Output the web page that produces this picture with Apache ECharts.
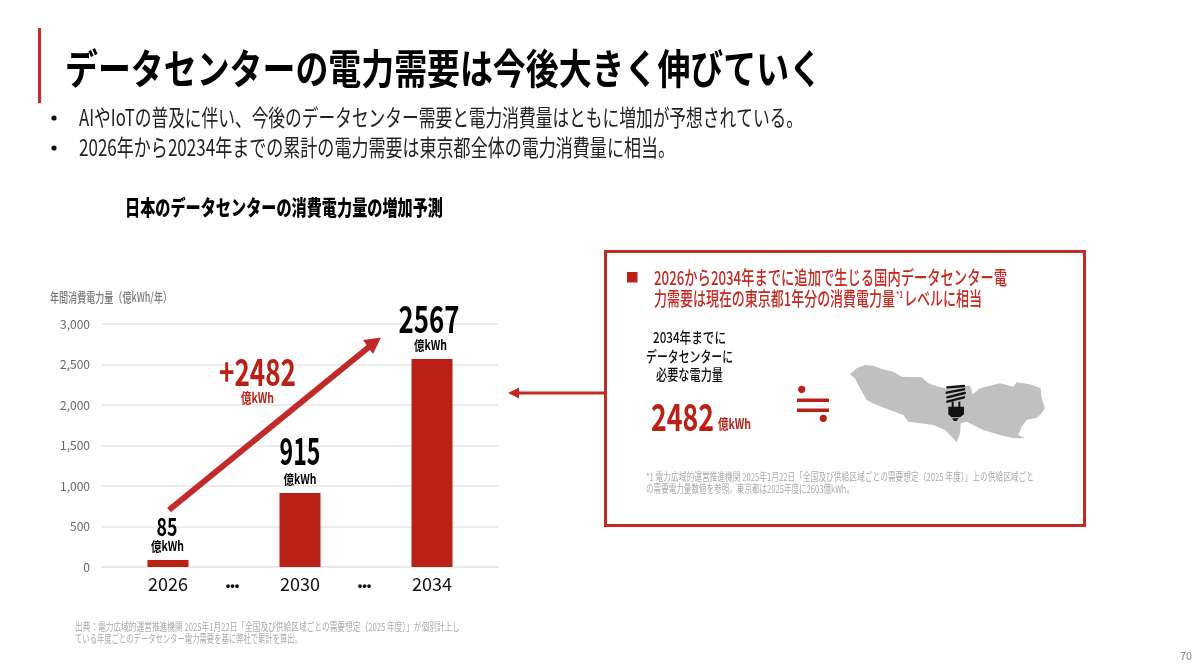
<!DOCTYPE html>
<html><head><meta charset="utf-8">
<style>html,body{margin:0;padding:0;background:#fff}#c{width:1200px;height:672px}</style>
<script src="https://cdn.jsdelivr.net/npm/echarts@6/dist/echarts.min.js"></script>
</head><body><div id="c"></div>
<script>
const categories = ['', '2026', '•••', '2030', '•••', '2034', ''];
const demand = [null, 85, null, 915, null, 2567, null];
const yTicks = {min: 0, max: 3000, interval: 500};
const unit = '億kWh';
const increase = '+2482';

const RED = '#b92116', BOX = '#c22a22';
const JP = '"Noto Sans CJK JP"';
const ctx = document.createElement('canvas').getContext('2d');
function fit(text, font, w) { ctx.font = font; return w / ctx.measureText(text).width; }
function T(text, x, y, size, fill, weight, w, align) {
  const font = `${weight} ${size}px ${JP}`;
  return {type: 'text', x, y, scaleX: w ? fit(text, font, w) : 1, z: 50, silent: true,
    style: {text, font, fill, textAlign: align || 'left', textVerticalAlign: 'middle'}};
}
function poly(points, fill) { return {type: 'polygon', z: 40, silent: true, shape: {points}, style: {fill}}; }
function seg(x1, y1, x2, y2, stroke, lw, cap) {
  return {type: 'line', z: 41, silent: true, shape: {x1, y1, x2, y2}, style: {stroke, lineWidth: lw, lineCap: cap || 'butt'}};
}
function rect(x, y, width, height, fill) { return {type: 'rect', z: 40, silent: true, shape: {x, y, width, height}, style: {fill}}; }
function dot(cx, cy, r, fill) { return {type: 'circle', z: 40, silent: true, shape: {cx, cy, r}, style: {fill}}; }

const mapOutline = [[30,58],[50,40],[75,30],[100,32],[125,42],[160,50],[185,65],[245,67],[265,85],[295,95],[320,100],[340,95],[390,92],[398,118],[420,100],[450,92],[480,85],[520,95],[530,82],[570,88],[602,100],[605,130],[615,160],[600,180],[590,188],[560,195],[545,215],[535,240],[555,250],[520,250],[480,240],[430,225],[380,200],[362,205],[360,235],[350,262],[335,245],[315,225],[280,210],[240,205],[205,200],[190,180],[150,165],[110,150],[80,135],[60,100],[45,70]]
  .map(p => [840 + p[0] / 3, 355 + p[1] / 3]);
const bx = v => 840 + v / 3, by = v => 355 + v / 3;

const decorations = [
  rect(38, 28, 3, 75, '#c8281e'),
  T('データセンターの電力需要は今後大きく伸びていく', 65, 68, 41, '#000', 700, 757),
  dot(54, 118, 2.6, '#111'), dot(54, 148, 2.6, '#111'),
  T('AIやIoTの普及に伴い、今後のデータセンター需要と電力消費量はともに増加が予想されている。', 79, 117, 23, '#222', 400, 724),
  T('2026年から20234年までの累計の電力需要は東京都全体の電力消費量に相当。', 79, 147, 23, '#222', 400, 596),
  T('日本のデータセンターの消費電力量の増加予測', 125, 207, 21, '#000', 900, 318),
  T('年間消費電力量（億kWh/年）', 50, 297, 13, '#777', 500, 122),
  seg(169, 510, 372, 344.5, '#c22a2a', 6),
  poly([[381, 337.5], [363, 340], [373, 354]], '#c22a2a'),
  T(increase, 219, 372, 37, RED, 700, 77),
  T(unit, 241, 398, 14, RED, 700, 33),
  T('出典：電力広域的運営推進機関 2025年1月22日「全国及び供給区域ごとの需要想定（2025 年度）」が個別計上し', 75, 627, 11, '#aaa', 400, 385),
  T('ている年度ごとのデータセンター電力需要を基に弊社で累計を算出。', 75, 639, 11, '#aaa', 400, 227),
  seg(605, 393, 516, 393, BOX, 3),
  poly([[508, 393], [519, 387.5], [519, 398.5]], BOX),
  {type: 'rect', z: 30, silent: true, shape: {x: 605.5, y: 251.5, width: 479, height: 274}, style: {fill: '#fff', stroke: BOX, lineWidth: 3}},
  rect(627, 272, 10.5, 10.5, RED),
  T('2026から2034年までに追加で生じる国内データセンター電', 654, 278, 19, BOX, 500, 353),
  T('力需要は現在の東京都1年分の消費電力量', 654, 299, 19, BOX, 500, 241),
  T('*1', 896, 295, 9, BOX, 500, 7),
  T('レベルに相当', 904, 299, 19, BOX, 500, 78),
  T('2034年までに', 653, 337, 15, '#111', 500, 73),
  T('データセンターに', 646, 356, 15, '#111', 500, 87),
  T('必要な電力量', 656, 374, 15, '#111', 500, 67),
  T('2482', 651, 417, 38, RED, 700, 63),
  T(unit, 718, 424, 14, RED, 700, 33),
  T('*1 電力広域的運営推進機関 2025年1月22日「全国及び供給区域ごとの需要想定（2025 年度）」上の供給区域ごと', 646, 477, 11, '#aaa', 400, 388),
  T('の需要電力量数値を参照。東京都は2025年度に2603億kWh。', 646, 489, 11, '#aaa', 400, 208),
  dot(801.7, 389.3, 3.6, RED), dot(823.3, 418.3, 3.6, RED),
  rect(797, 398.5, 32, 3.5, RED), rect(797, 408.5, 32, 3.5, RED),
  poly(mapOutline, '#c0c0c0'),
  seg(bx(322), by(97), bx(372), by(93), '#111', 2.4, 'round'),
  seg(bx(320), by(113), bx(372), by(103), '#111', 2.4, 'round'),
  seg(bx(322), by(127), bx(374), by(114), '#111', 2.4, 'round'),
  seg(bx(322), by(140), bx(372), by(127), '#111', 2.4, 'round'),
  seg(bx(338), by(140), bx(338), by(156), '#111', 2),
  seg(bx(358), by(140), bx(358), by(156), '#111', 2),
  poly([[bx(325),by(155)],[bx(372),by(155)],[bx(372),by(178)],[bx(360),by(187)],[bx(334),by(187)],[bx(325),by(178)]], '#111'),
  poly([[bx(336),by(190)],[bx(356),by(190)],[bx(350),by(198)],[bx(342),by(198)]], '#111'),
  T('70', 1192, 656, 11, '#888', 400, 12, 'right')
];

// value-label appearance per category index: size, fitted width, rise above the bar, x nudge
const labelLook = {
  1: {size: 25, w: 21, rise: 34, dx: -1},
  3: {size: 37, w: 41, rise: 42, dx: 0},
  5: {size: 37, w: 61, rise: 40, dx: -3}
};
function renderValueLabel(params, api) {
  const idx = api.value(0), val = api.value(1);
  if (isNaN(val)) return null;
  const look = labelLook[idx];
  const p = api.coord([idx, val]);
  const text = String(val);
  const font = `700 ${look.size}px ${JP}`;
  const ufont = `700 13px ${JP}`;
  return {type: 'group', children: [
    {type: 'text', x: p[0] + look.dx, y: p[1] - look.rise, scaleX: fit(text, font, look.w),
      style: {text, font, fill: '#000', textAlign: 'center', textVerticalAlign: 'middle'}},
    {type: 'text', x: p[0] + look.dx * 0.5, y: p[1] - 14, scaleX: fit(unit, ufont, 33),
      style: {text: unit, font: ufont, fill: '#000', textAlign: 'center', textVerticalAlign: 'middle'}}
  ]};
}

const chart = echarts.init(document.getElementById('c'), null, {renderer: 'canvas'});
chart.setOption({
  animation: false,
  backgroundColor: '#fff',
  grid: {left: 102, right: 702, top: 324, bottom: 105, containLabel: false},
  xAxis: {
    type: 'category', data: categories, boundaryGap: false,
    axisTick: {show: false},
    axisLine: {lineStyle: {color: '#e6e6e6', width: 1.5}},
    axisLabel: {
      interval: 0, margin: 8, color: '#111', fontFamily: JP, fontSize: 18,
      formatter: v => v === '•••' ? '{d|' + v + '}' : v,
      rich: {d: {fontSize: 13, fontWeight: 'bold', color: '#111', fontFamily: 'Liberation Sans', padding: [5, 3, 0, 0]}}
    }
  },
  yAxis: {
    type: 'value', min: yTicks.min, max: yTicks.max, interval: yTicks.interval,
    axisLine: {show: false}, axisTick: {show: false},
    splitLine: {lineStyle: {color: '#e6e6e6', width: 1.5}},
    axisLabel: {
      margin: 12, color: '#666', fontFamily: JP, fontSize: 12,
      formatter: v => v.toLocaleString('en-US')
    }
  },
  series: [
    {type: 'bar', data: demand, barWidth: 41, itemStyle: {color: RED}},
    {type: 'custom', data: demand, renderItem: renderValueLabel, silent: true, z: 5,
      encode: {x: 0, y: 1}}
  ],
  graphic: {elements: decorations}
});
</script>
</body></html>
